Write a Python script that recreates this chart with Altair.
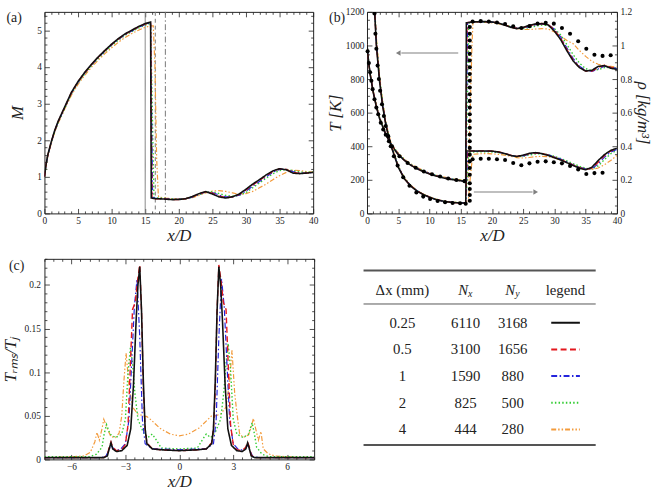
import altair as alt
import pandas as pd

FONT = "Liberation Serif, Times New Roman, serif"
INK = "#222222"

# ---------------------------------------------------------------------------
# Mesh resolutions of the grid-convergence study
# ---------------------------------------------------------------------------
DX_MM = ["0.25", "0.5", "1", "2", "4"]
N_X = [6110, 3100, 1590, 825, 444]
N_Y = [3168, 1656, 880, 500, 280]

LINE_COLOR = {"0.25": "#111111", "0.5": "#e3171d", "1": "#2424dc",
              "2": "#33cc33", "4": "#f39b3c"}
LINE_DASH = {"0.25": [1, 0], "0.5": [6, 3.5], "1": [6, 2.5, 1.5, 2.5],
             "2": [1.5, 2.2], "4": [5, 2, 1.5, 2, 1.5, 2]}
LINE_WIDTH = {"0.25": 1.6, "0.5": 1.4, "1": 1.2, "2": 1.4, "4": 1.2}
DRAW_ORDER = ["4", "2", "1", "0.5", "0.25"]

# ---------------------------------------------------------------------------
# (a) centreline Mach number
# ---------------------------------------------------------------------------
NOZZLE_X = [0, 0.25, 0.5, 1, 1.5, 2, 3, 4, 5, 6, 7, 8, 9, 10, 11, 12, 13, 14, 15, 15.8]
PLUME_X = [17, 18, 19, 20, 21, 22, 23, 24, 25, 26, 27, 28, 29, 30, 31, 32, 33, 34,
           35, 36, 37, 38, 39, 40]

M_NOZZLE = {
    "0.25": [1.0, 1.35, 1.6, 1.95, 2.25, 2.5, 2.9, 3.3, 3.6, 3.85, 4.07, 4.27, 4.45, 4.62, 4.77, 4.9, 5.0, 5.1, 5.18, 5.22],
    "0.5": [1.0, 1.34, 1.59, 1.94, 2.24, 2.49, 2.89, 3.29, 3.59, 3.84, 4.06, 4.26, 4.44, 4.61, 4.76, 4.89, 4.99, 5.09, 5.17, 5.21],
    "1": [1.0, 1.33, 1.58, 1.93, 2.23, 2.48, 2.88, 3.28, 3.58, 3.83, 4.05, 4.25, 4.43, 4.6, 4.75, 4.88, 4.98, 5.08, 5.16, 5.2],
    "2": [1.0, 1.32, 1.57, 1.92, 2.22, 2.46, 2.86, 3.26, 3.56, 3.81, 4.03, 4.23, 4.41, 4.58, 4.73, 4.86, 4.96, 5.06, 5.14, 5.18],
    "4": [1.0, 1.3, 1.55, 1.9, 2.2, 2.44, 2.84, 3.22, 3.52, 3.77, 3.99, 4.18, 4.36, 4.52, 4.67, 4.8, 4.91, 5.0, 5.08, 5.12],
}
M_SHOCK_X = {"0.25": [15.9, 16.5], "0.5": [16.0, 16.5], "1": [16.1, 16.6],
             "2": [16.3, 16.7], "4": [16.2, 16.45, 16.7, 16.95]}
M_SHOCK = {"0.25": [0.42, 0.40], "0.5": [0.42, 0.40], "1": [0.43, 0.41],
           "2": [0.44, 0.42], "4": [5.12, 4.0, 1.5, 0.5]}
M_PLUME = {
    "0.25": [0.40, 0.39, 0.375, 0.38, 0.40, 0.46, 0.54, 0.595, 0.53, 0.45, 0.42, 0.455, 0.53, 0.66, 0.8, 0.92, 1.05, 1.16, 1.22, 1.19, 1.1, 1.085, 1.1, 1.12],
    "0.5": [0.40, 0.39, 0.38, 0.38, 0.40, 0.45, 0.53, 0.59, 0.55, 0.47, 0.43, 0.45, 0.52, 0.64, 0.78, 0.9, 1.03, 1.15, 1.22, 1.2, 1.12, 1.09, 1.1, 1.12],
    "1": [0.41, 0.40, 0.385, 0.385, 0.40, 0.44, 0.52, 0.585, 0.57, 0.5, 0.45, 0.45, 0.5, 0.61, 0.74, 0.87, 1.0, 1.12, 1.2, 1.2, 1.14, 1.1, 1.1, 1.12],
    "2": [0.42, 0.41, 0.395, 0.39, 0.40, 0.44, 0.51, 0.58, 0.59, 0.54, 0.49, 0.47, 0.49, 0.57, 0.7, 0.83, 0.96, 1.08, 1.17, 1.2, 1.17, 1.13, 1.12, 1.13],
    "4": [0.45, 0.42, 0.40, 0.39, 0.40, 0.43, 0.49, 0.56, 0.61, 0.62, 0.6, 0.56, 0.52, 0.54, 0.6, 0.7, 0.8, 0.92, 1.03, 1.12, 1.18, 1.17, 1.14, 1.13],
}
STATION_X = [15, 16.5, 18]
STATION_DASH = [[1, 0], [4, 3], [6, 2.5, 1.5, 2.5]]

# ---------------------------------------------------------------------------
# (b) centreline temperature and density
# ---------------------------------------------------------------------------
T_NOZZLE = {
    "0.25": [1005, 905, 830, 720, 635, 565, 470, 400, 350, 315, 287, 266, 249, 235, 223, 213, 205, 199, 194, 191],
    "0.5": [1005, 906, 831, 722, 637, 567, 472, 402, 352, 316, 288, 267, 250, 236, 224, 214, 206, 200, 195, 192],
    "1": [1005, 907, 833, 724, 639, 569, 474, 404, 354, 318, 290, 269, 252, 238, 226, 216, 207, 201, 196, 193],
    "2": [1005, 908, 835, 727, 642, 572, 477, 407, 357, 320, 292, 271, 254, 239, 227, 217, 209, 203, 198, 195],
    "4": [1005, 910, 838, 730, 645, 575, 480, 410, 360, 323, 295, 273, 256, 241, 229, 219, 211, 205, 200, 197],
}
T_SHOCK_X = {"0.25": [15.9], "0.5": [16.0], "1": [16.1], "2": [16.3],
             "4": [16.2, 16.5, 16.8, 16.95]}
T_SHOCK = {"0.25": [1135], "0.5": [1136], "1": [1136], "2": [1135],
           "4": [200, 600, 1000, 1130]}
T_PLUME = {
    "0.25": [1140, 1142, 1142, 1140, 1133, 1122, 1108, 1100, 1108, 1120, 1128, 1130, 1122, 1085, 1035, 968, 908, 868, 848, 852, 875, 880, 865, 857],
    "0.5": [1140, 1142, 1142, 1140, 1134, 1124, 1110, 1101, 1106, 1118, 1127, 1131, 1125, 1092, 1042, 975, 913, 870, 847, 848, 868, 882, 870, 860],
    "1": [1139, 1141, 1141, 1139, 1133, 1123, 1111, 1102, 1103, 1113, 1123, 1128, 1124, 1097, 1050, 985, 922, 877, 852, 846, 860, 876, 872, 862],
    "2": [1138, 1140, 1140, 1138, 1132, 1123, 1112, 1103, 1100, 1106, 1115, 1121, 1120, 1100, 1062, 1005, 945, 895, 862, 850, 856, 868, 870, 864],
    "4": [1137, 1138, 1137, 1135, 1130, 1120, 1110, 1100, 1095, 1095, 1098, 1100, 1098, 1080, 1055, 1030, 1010, 970, 935, 905, 888, 880, 875, 870],
}
RHO_NOZZLE_X = [1.0, 1.25, 1.5, 2, 2.5, 3, 3.5, 4, 5, 6, 7, 8, 9, 10, 11, 12, 13, 14, 15, 15.8]
RHO_NOZZLE = {
    "0.25": [1.4, 1.18, 1.0, 0.79, 0.64, 0.53, 0.45, 0.385, 0.275, 0.205, 0.163, 0.133, 0.112, 0.096, 0.083, 0.074, 0.068, 0.064, 0.062, 0.061],
    "0.5": [1.41, 1.19, 1.01, 0.795, 0.645, 0.533, 0.452, 0.387, 0.277, 0.206, 0.164, 0.134, 0.113, 0.097, 0.084, 0.075, 0.069, 0.065, 0.063, 0.062],
    "1": [1.42, 1.2, 1.02, 0.8, 0.65, 0.537, 0.456, 0.39, 0.279, 0.208, 0.165, 0.135, 0.113, 0.097, 0.084, 0.075, 0.069, 0.065, 0.063, 0.062],
    "2": [1.43, 1.21, 1.03, 0.81, 0.66, 0.543, 0.462, 0.395, 0.282, 0.21, 0.166, 0.136, 0.114, 0.098, 0.085, 0.076, 0.07, 0.066, 0.064, 0.063],
    "4": [1.45, 1.22, 1.05, 0.82, 0.67, 0.55, 0.47, 0.4, 0.285, 0.212, 0.168, 0.137, 0.115, 0.099, 0.086, 0.077, 0.071, 0.067, 0.065, 0.064],
}
RHO_SHOCK_X = {"0.25": [15.9], "0.5": [16.0], "1": [16.1], "2": [16.3],
               "4": [16.2, 16.5, 16.8, 16.95]}
RHO_SHOCK = {"0.25": [0.372], "0.5": [0.372], "1": [0.37], "2": [0.366],
             "4": [0.065, 0.2, 0.31, 0.35]}
RHO_PLUME = {
    "0.25": [0.372, 0.372, 0.372, 0.371, 0.366, 0.357, 0.345, 0.339, 0.347, 0.358, 0.362, 0.356, 0.345, 0.332, 0.318, 0.302, 0.285, 0.27, 0.26, 0.275, 0.315, 0.35, 0.375, 0.388],
    "0.5": [0.372, 0.372, 0.372, 0.371, 0.367, 0.358, 0.346, 0.339, 0.345, 0.356, 0.361, 0.357, 0.347, 0.334, 0.32, 0.304, 0.287, 0.272, 0.262, 0.27, 0.305, 0.345, 0.372, 0.386],
    "1": [0.37, 0.37, 0.37, 0.369, 0.365, 0.357, 0.346, 0.339, 0.343, 0.353, 0.359, 0.357, 0.349, 0.337, 0.323, 0.307, 0.29, 0.275, 0.264, 0.266, 0.295, 0.335, 0.365, 0.382],
    "2": [0.366, 0.367, 0.367, 0.366, 0.362, 0.355, 0.345, 0.338, 0.34, 0.348, 0.354, 0.355, 0.35, 0.34, 0.327, 0.312, 0.296, 0.281, 0.268, 0.265, 0.283, 0.32, 0.355, 0.376],
    "4": [0.352, 0.355, 0.356, 0.355, 0.352, 0.347, 0.34, 0.332, 0.33, 0.333, 0.338, 0.34, 0.338, 0.33, 0.318, 0.305, 0.29, 0.275, 0.265, 0.262, 0.27, 0.29, 0.315, 0.345],
}

# reference data (symbols)
T_REF_X = [0.1, 0.3, 0.5, 0.7, 0.9, 1.2, 1.5, 1.8, 2.2, 2.6, 3.0, 3.5, 4.0, 5.2, 6.5,
           7.8, 9.1, 10.4, 11.7, 13.0, 14.3, 15.6,
           16.45, 16.45, 16.45, 16.45, 16.45, 16.45, 16.45, 16.45, 16.45, 16.45, 16.45,
           16.45, 16.45, 16.45, 16.45, 16.45, 16.45, 16.45, 16.45, 16.45, 16.45, 16.45, 16.45,
           16.9, 18.2, 19.5, 20.8, 22.1, 23.4, 24.7, 26.0, 27.3, 28.6, 29.9, 31.2, 32.5,
           33.8, 35.1, 36.4, 37.7, 39.0]
T_REF = [965, 895, 840, 790, 740, 680, 630, 590, 540, 500, 468, 430, 400, 340, 300,
         272, 250, 233, 220, 208, 199, 192,
         230, 270, 310, 350, 390, 430, 470, 510, 550, 590, 630, 670, 710, 750, 790, 830,
         870, 910, 950, 990, 1030, 1070, 1110,
         1142, 1145, 1142, 1137, 1128, 1114, 1104, 1115, 1130, 1135, 1130, 1104, 1070,
         1025, 980, 945, 938, 942]
RHO_REF_X = [1.2, 1.35, 1.5, 1.7, 1.9, 2.1, 2.4, 2.7, 3.0, 3.4, 3.8, 4.3, 4.9, 5.8, 6.8,
             7.9, 9.0, 10.1, 11.3, 12.5, 13.7, 14.9, 15.8,
             16.45, 16.45, 16.45, 16.45,
             16.9, 18.2, 19.5, 20.8, 22.1, 23.4, 24.7, 26.0, 27.3, 28.6, 29.9, 31.2,
             32.5, 33.8, 35.1, 36.4, 37.7]
RHO_REF = [1.19, 1.07, 0.98, 0.88, 0.8, 0.73, 0.65, 0.58, 0.52, 0.46, 0.4, 0.34, 0.285,
           0.215, 0.165, 0.125, 0.1, 0.086, 0.074, 0.066, 0.062, 0.06, 0.058,
           0.075, 0.11, 0.145, 0.18,
           0.322, 0.325, 0.325, 0.322, 0.318, 0.3, 0.287, 0.298, 0.308, 0.31, 0.305,
           0.298, 0.283, 0.262, 0.235, 0.24, 0.242]

# arrows pointing at the axis each curve family belongs to
ARROW_T = {"from": 14.6, "to": 5.0, "level": 955}
ARROW_RHO = {"from": 17.1, "to": 27.0, "level": 0.127}

# ---------------------------------------------------------------------------
# (c) radial profile of temperature fluctuations
# ---------------------------------------------------------------------------
TRMS_X = {
    "0.25": [-7.5, -5.0, -4.2, -4.0, -3.9, -3.8, -3.7, -3.5, -3.2, -2.9, -2.7, -2.55, -2.4, -2.3, -2.2, -2.1, -2.0, -1.9, -1.8, -1.5, -1.0, 0.0, 1.0, 1.5, 1.8, 1.9, 2.0, 2.1, 2.2, 2.3, 2.4, 2.55, 2.7, 2.9, 3.2, 3.5, 3.7, 3.8, 3.9, 4.0, 4.2, 5.0, 7.5],
    "0.5": [-7.5, -5.0, -4.2, -4.0, -3.9, -3.8, -3.7, -3.5, -3.2, -3.0, -2.85, -2.7, -2.6, -2.45, -2.32, -2.2, -2.1, -2.0, -1.9, -1.8, -1.5, -1.0, 0.0, 1.0, 1.5, 1.8, 1.9, 2.0, 2.1, 2.2, 2.32, 2.45, 2.6, 2.7, 2.85, 3.0, 3.2, 3.5, 3.7, 3.8, 3.9, 4.0, 4.2, 5.0, 7.5],
    "1": [-7.5, -4.5, -4.1, -3.95, -3.8, -3.6, -3.3, -3.0, -2.8, -2.65, -2.5, -2.35, -2.2, -2.05, -1.9, -1.5, -1.0, 0.0, 1.0, 1.5, 1.9, 2.05, 2.2, 2.35, 2.5, 2.65, 2.8, 3.0, 3.3, 3.6, 3.8, 3.95, 4.1, 4.5, 7.5],
    "2": [-7.5, -5.0, -4.6, -4.3, -4.18, -4.05, -3.85, -3.55, -3.2, -3.0, -2.85, -2.72, -2.6, -2.47, -2.3, -2.0, -1.75, -1.5, -1.3, -1.0, 0.0, 1.0, 1.3, 1.5, 1.75, 2.0, 2.3, 2.47, 2.6, 2.72, 2.85, 3.0, 3.2, 3.55, 3.85, 4.05, 4.18, 4.3, 4.6, 5.0, 7.5],
    "4": [-7.5, -6.0, -5.3, -4.95, -4.7, -4.58, -4.45, -4.3, -4.2, -4.0, -3.8, -3.55, -3.35, -3.2, -3.08, -2.96, -2.8, -2.6, -2.3, -2.0, -1.8, -1.55, -1.1, -0.5, 0.0, 0.5, 1.1, 1.55, 1.8, 2.0, 2.3, 2.6, 2.8, 2.93, 3.08, 3.2, 3.35, 3.55, 3.85, 4.0, 4.12, 4.25, 4.4, 4.54, 4.67, 4.95, 5.3, 6.0, 7.5],
}
TRMS = {
    "0.25": [0.002, 0.002, 0.002, 0.004, 0.012, 0.019, 0.012, 0.009, 0.010, 0.016, 0.035, 0.085, 0.16, 0.2, 0.221, 0.17, 0.09, 0.035, 0.018, 0.012, 0.011, 0.010, 0.011, 0.012, 0.018, 0.035, 0.09, 0.17, 0.221, 0.2, 0.16, 0.085, 0.035, 0.016, 0.010, 0.009, 0.012, 0.019, 0.012, 0.004, 0.002, 0.002, 0.002],
    "0.5": [0.002, 0.002, 0.002, 0.005, 0.014, 0.02, 0.014, 0.01, 0.011, 0.017, 0.04, 0.12, 0.172, 0.18, 0.205, 0.223, 0.17, 0.08, 0.035, 0.019, 0.012, 0.011, 0.010, 0.011, 0.012, 0.019, 0.035, 0.08, 0.17, 0.223, 0.205, 0.18, 0.172, 0.12, 0.04, 0.017, 0.011, 0.01, 0.014, 0.02, 0.014, 0.005, 0.002, 0.002, 0.002],
    "1": [0.002, 0.002, 0.003, 0.009, 0.016, 0.011, 0.011, 0.018, 0.045, 0.11, 0.175, 0.207, 0.14, 0.045, 0.018, 0.012, 0.012, 0.011, 0.012, 0.012, 0.018, 0.045, 0.14, 0.207, 0.175, 0.11, 0.045, 0.018, 0.011, 0.011, 0.016, 0.009, 0.003, 0.002, 0.002],
    "2": [0.003, 0.003, 0.006, 0.014, 0.029, 0.04, 0.029, 0.025, 0.029, 0.046, 0.1, 0.128, 0.11, 0.076, 0.046, 0.031, 0.025, 0.029, 0.023, 0.013, 0.012, 0.013, 0.023, 0.029, 0.025, 0.031, 0.046, 0.076, 0.11, 0.133, 0.103, 0.046, 0.029, 0.025, 0.029, 0.042, 0.029, 0.014, 0.006, 0.003, 0.003],
    "4": [0.002, 0.003, 0.004, 0.008, 0.02, 0.031, 0.022, 0.035, 0.046, 0.035, 0.026, 0.025, 0.03, 0.05, 0.09, 0.122, 0.085, 0.06, 0.052, 0.05, 0.049, 0.045, 0.036, 0.029, 0.027, 0.029, 0.036, 0.045, 0.05, 0.05, 0.052, 0.06, 0.09, 0.125, 0.076, 0.054, 0.03, 0.025, 0.028, 0.037, 0.047, 0.035, 0.022, 0.032, 0.012, 0.0064, 0.004, 0.003, 0.002],
}

# ---------------------------------------------------------------------------
# helpers
# ---------------------------------------------------------------------------
MAJOR, MINOR = 5, 2.5


def ticks_only(orient, values, size):
    return alt.Axis(orient=orient, values=values, labels=False, domain=False, grid=False,
                    tickSize=size, offset=-size, tickColor=INK, tickWidth=0.8, title=None)


def labelled(orient, values, title, label_pad, title_pad, fmt="~g"):
    return alt.Axis(orient=orient, values=values, ticks=False, domain=False, grid=False,
                    labelPadding=label_pad, labelFlush=False, labelOverlap=False,
                    format=fmt, title=title, titlePadding=title_pad)


def ghost(xcol, ycol, x0, y0, xs, ys, xaxis, yaxis):
    df = pd.DataFrame({xcol: [x0], ycol: [y0]})
    return alt.Chart(df).mark_point(opacity=0).encode(
        x=alt.X(f"{xcol}:Q", scale=xs, axis=xaxis),
        y=alt.Y(f"{ycol}:Q", scale=ys, axis=yaxis))


def curves(xcol, ycol, xs_by, ys_by, xs, ys):
    out = []
    for s in DRAW_ORDER:
        df = pd.DataFrame({xcol: xs_by[s], ycol: ys_by[s]})
        out.append(alt.Chart(df).mark_line(
            color=LINE_COLOR[s], strokeDash=LINE_DASH[s], strokeWidth=LINE_WIDTH[s],
            clip=True).encode(
            x=alt.X(f"{xcol}:Q", scale=xs, axis=None),
            y=alt.Y(f"{ycol}:Q", scale=ys, axis=None)))
    return out


def tag(text, dx, dy):
    return alt.Chart(pd.DataFrame({"t": [text]})).mark_text(
        align="left", baseline="middle", font=FONT, fontSize=14, color=INK).encode(
        text="t:N", x=alt.value(dx), y=alt.value(dy))


def minor_ticks(lo, hi, step, every):
    n = int(round((hi - lo) / step))
    return [round(lo + i * step, 4) for i in range(n + 1) if i % every]


# ---------------------------------------------------------------------------
# panel (a)
# ---------------------------------------------------------------------------
xa = alt.Scale(domain=[0, 40], nice=False, zero=False)
ya = alt.Scale(domain=[0, 5.5], nice=False, zero=False)
X40_MAJ = [0, 5, 10, 15, 20, 25, 30, 35, 40]
X40_MIN = minor_ticks(0, 40, 1, 5)
MA_MAJ = [0, 1, 2, 3, 4, 5]
MA_MIN = minor_ticks(0, 5.4, 0.2, 5)

m_x = {s: NOZZLE_X + M_SHOCK_X[s] + PLUME_X for s in DX_MM}
m_y = {s: M_NOZZLE[s] + M_SHOCK[s] + M_PLUME[s] for s in DX_MM}

stations = [alt.Chart(pd.DataFrame({"x": [x0]})).mark_rule(
    color="#777777", strokeWidth=1, strokeDash=d).encode(x=alt.X("x:Q", scale=xa, axis=None))
    for x0, d in zip(STATION_X, STATION_DASH)]

panel_a = alt.layer(
    *stations,
    *curves("x", "M", m_x, m_y, xa, ya),
    ghost("x", "M", 20, 1, xa, ya, labelled("bottom", X40_MAJ, "x/D", 2, 3),
          labelled("left", MA_MAJ, "M", 3, 10)),
    ghost("x", "M", 20, 1, xa, ya, ticks_only("bottom", X40_MAJ, MAJOR), ticks_only("left", MA_MAJ, MAJOR)),
    ghost("x", "M", 20, 1, xa, ya, ticks_only("bottom", X40_MIN, MINOR), ticks_only("left", MA_MIN, MINOR)),
    ghost("x", "M", 20, 1, xa, ya, ticks_only("top", X40_MAJ, MAJOR), ticks_only("right", MA_MAJ, MAJOR)),
    ghost("x", "M", 20, 1, xa, ya, ticks_only("top", X40_MIN, MINOR), ticks_only("right", MA_MIN, MINOR)),
    tag("(a)", -38.5, 6),
).resolve_axis(x="independent", y="independent").properties(width=272, height=204)

# ---------------------------------------------------------------------------
# panel (b)
# ---------------------------------------------------------------------------
xb = alt.Scale(domain=[0, 40], nice=False, zero=False)
yT = alt.Scale(domain=[0, 1200], nice=False, zero=False)
yR = alt.Scale(domain=[0, 1.2], nice=False, zero=False)
T_MAJ = [0, 200, 400, 600, 800, 1000, 1200]
T_MIN = minor_ticks(0, 1200, 50, 4)
R_MAJ = [0, 0.2, 0.4, 0.6, 0.8, 1, 1.2]
R_MIN = minor_ticks(0, 1.2, 0.05, 4)

t_x = {s: NOZZLE_X + T_SHOCK_X[s] + PLUME_X for s in DX_MM}
t_y = {s: T_NOZZLE[s] + T_SHOCK[s] + T_PLUME[s] for s in DX_MM}
r_x = {s: RHO_NOZZLE_X + RHO_SHOCK_X[s] + PLUME_X for s in DX_MM}
r_y = {s: RHO_NOZZLE[s] + RHO_SHOCK[s] + RHO_PLUME[s] for s in DX_MM}

ARROW_GREY = "#808080"
arrow_t = pd.DataFrame({"x": [ARROW_T["from"]], "x2": [ARROW_T["to"] + 0.5],
                        "tip": [ARROW_T["to"]], "T": [ARROW_T["level"]]})
arrow_r = pd.DataFrame({"x": [ARROW_RHO["from"]], "x2": [ARROW_RHO["to"] - 0.5],
                        "tip": [ARROW_RHO["to"]], "rho": [ARROW_RHO["level"]]})

panel_b = alt.layer(
    *curves("x", "T", t_x, t_y, xb, yT),
    *curves("x", "rho", r_x, r_y, xb, yR),
    alt.Chart(pd.DataFrame({"x": T_REF_X, "T": T_REF})).mark_circle(
        size=17, color="black", opacity=1).encode(
        x=alt.X("x:Q", scale=xb, axis=None), y=alt.Y("T:Q", scale=yT, axis=None)),
    alt.Chart(pd.DataFrame({"x": RHO_REF_X, "rho": RHO_REF})).mark_circle(
        size=17, color="black", opacity=1, clip=True).encode(
        x=alt.X("x:Q", scale=xb, axis=None), y=alt.Y("rho:Q", scale=yR, axis=None)),
    alt.Chart(arrow_t).mark_rule(color=ARROW_GREY, strokeWidth=1.1).encode(
        x=alt.X("x:Q", scale=xb, axis=None), x2="x2:Q", y=alt.Y("T:Q", scale=yT, axis=None)),
    alt.Chart(arrow_t).mark_point(shape="triangle-left", filled=True, size=30,
                                  color=ARROW_GREY, opacity=1).encode(
        x=alt.X("tip:Q", scale=xb, axis=None), y=alt.Y("T:Q", scale=yT, axis=None)),
    alt.Chart(arrow_r).mark_rule(color=ARROW_GREY, strokeWidth=1.1).encode(
        x=alt.X("x:Q", scale=xb, axis=None), x2="x2:Q", y=alt.Y("rho:Q", scale=yR, axis=None)),
    alt.Chart(arrow_r).mark_point(shape="triangle-right", filled=True, size=30,
                                  color=ARROW_GREY, opacity=1).encode(
        x=alt.X("tip:Q", scale=xb, axis=None), y=alt.Y("rho:Q", scale=yR, axis=None)),
    ghost("x", "T", 20, 500, xb, yT, labelled("bottom", X40_MAJ, "x/D", 2, 3),
          labelled("left", T_MAJ, "T [K]", 3, 1, fmt="d")),
    ghost("x", "T", 20, 500, xb, yT, ticks_only("bottom", X40_MAJ, MAJOR), ticks_only("left", T_MAJ, MAJOR)),
    ghost("x", "T", 20, 500, xb, yT, ticks_only("bottom", X40_MIN, MINOR), ticks_only("left", T_MIN, MINOR)),
    ghost("x", "rho", 20, 0.5, xb, yR, ticks_only("top", X40_MAJ, MAJOR),
          labelled("right", R_MAJ, "ρ [kg/m³]", 3, 2)),
    ghost("x", "rho", 20, 0.5, xb, yR, ticks_only("top", X40_MIN, MINOR), ticks_only("right", R_MAJ, MAJOR)),
    ghost("x", "rho", 20, 0.5, xb, yR, None, ticks_only("right", R_MIN, MINOR)),
    tag("(b)", -38.4, 6),
).resolve_scale(y="independent").resolve_axis(x="independent", y="independent").properties(
    width=253, height=204)

# ---------------------------------------------------------------------------
# panel (c)
# ---------------------------------------------------------------------------
xc = alt.Scale(domain=[-7.5, 7.5], nice=False, zero=False)
yc = alt.Scale(domain=[0, 0.23], nice=False, zero=False)
XC_MAJ = [-6, -3, 0, 3, 6]
XC_MIN = [v for v in [round(-7.5 + 0.5 * i, 2) for i in range(31)] if v not in XC_MAJ]
YC_MAJ = [0, 0.05, 0.1, 0.15, 0.2]
YC_MIN = minor_ticks(0, 0.23, 0.01, 5)

panel_c = alt.layer(
    *curves("r", "trms", TRMS_X, TRMS, xc, yc),
    ghost("r", "trms", 0, 0.1, xc, yc, labelled("bottom", XC_MAJ, "x/D", 2, 3),
          labelled("left", YC_MAJ, "Tᵣₘₛ/Tⱼ", 4, 5)),
    ghost("r", "trms", 0, 0.1, xc, yc, ticks_only("bottom", XC_MAJ, MAJOR), ticks_only("left", YC_MAJ, MAJOR)),
    ghost("r", "trms", 0, 0.1, xc, yc, ticks_only("bottom", XC_MIN, MINOR), ticks_only("left", YC_MIN, MINOR)),
    ghost("r", "trms", 0, 0.1, xc, yc, ticks_only("top", XC_MAJ, MAJOR), ticks_only("right", YC_MAJ, MAJOR)),
    ghost("r", "trms", 0, 0.1, xc, yc, ticks_only("top", XC_MIN, MINOR), ticks_only("right", YC_MIN, MINOR)),
    tag("(c)", -36, 7),
).resolve_axis(x="independent", y="independent").properties(width=273, height=203)

# ---------------------------------------------------------------------------
# mesh table
# ---------------------------------------------------------------------------
TAB_W, TAB_H = 235, 203
tx = alt.Scale(domain=[0, TAB_W], nice=False, zero=False)
ty = alt.Scale(domain=[0, TAB_H], reverse=True, nice=False, zero=False)
COL_X = [39.3, 103.3, 151, 204.3]
ROW_Y = [64.7, 91.7, 118.7, 145.7, 172.7]
HEAD_Y = 31.4
SAMPLE_X = (190, 219)

rules = pd.DataFrame({"x": [0, 0, 0], "x2": [TAB_W, TAB_W, TAB_W],
                      "y": [11.7, 45.7, 188.4], "w": [2.0, 1.0, 2.0]})
cells = pd.DataFrame({
    "x": [COL_X[0]] * 5 + [COL_X[1]] * 5 + [COL_X[2]] * 5,
    "y": ROW_Y * 3,
    "t": DX_MM + [str(v) for v in N_X] + [str(v) for v in N_Y],
})
samples = pd.DataFrame({"x": [SAMPLE_X[0]] * 5, "x2": [SAMPLE_X[1]] * 5,
                        "y": ROW_Y, "s": DX_MM})

tab_layers = [
    alt.Chart(rules).mark_rule(color="#555555").encode(
        x=alt.X("x:Q", scale=tx, axis=None), x2="x2:Q",
        y=alt.Y("y:Q", scale=ty, axis=None),
        strokeWidth=alt.StrokeWidth("w:Q", scale=None)),
    alt.Chart(cells).mark_text(font=FONT, fontSize=15, color=INK, baseline="middle").encode(
        x=alt.X("x:Q", scale=tx, axis=None), y=alt.Y("y:Q", scale=ty, axis=None), text="t:N"),
    alt.Chart(pd.DataFrame({"x": [COL_X[0], COL_X[3]], "y": [HEAD_Y, HEAD_Y],
                            "t": ["Δx (mm)", "legend"]})).mark_text(
        font=FONT, fontSize=15, color=INK, baseline="middle").encode(
        x=alt.X("x:Q", scale=tx, axis=None), y=alt.Y("y:Q", scale=ty, axis=None), text="t:N"),
    alt.Chart(pd.DataFrame({"x": [COL_X[1] + 2.5, COL_X[2] + 2.5], "y": [HEAD_Y, HEAD_Y],
                            "t": ["N", "N"]})).mark_text(
        font=FONT, fontSize=15, fontStyle="italic", color=INK, baseline="middle",
        align="right").encode(
        x=alt.X("x:Q", scale=tx, axis=None), y=alt.Y("y:Q", scale=ty, axis=None), text="t:N"),
    alt.Chart(pd.DataFrame({"x": [COL_X[1] + 2.5, COL_X[2] + 2.5],
                            "y": [HEAD_Y + 4.5, HEAD_Y + 4.5], "t": ["x", "y"]})).mark_text(
        font=FONT, fontSize=10, fontStyle="italic", color=INK, baseline="middle",
        align="left").encode(
        x=alt.X("x:Q", scale=tx, axis=None), y=alt.Y("y:Q", scale=ty, axis=None), text="t:N"),
]
for s in DX_MM:
    tab_layers.append(
        alt.Chart(samples[samples["s"] == s]).mark_rule(
            color=LINE_COLOR[s], strokeDash=LINE_DASH[s], strokeWidth=2).encode(
            x=alt.X("x:Q", scale=tx, axis=None), x2="x2:Q",
            y=alt.Y("y:Q", scale=ty, axis=None)))

table = alt.layer(*tab_layers).properties(
    width=TAB_W, height=TAB_H, view=alt.ViewBackground(stroke="transparent"))

# ---------------------------------------------------------------------------
# assemble
# ---------------------------------------------------------------------------
top = alt.hconcat(panel_a, panel_b, spacing=6.5)
bottom = alt.hconcat(panel_c, table, spacing=47)
chart = alt.vconcat(top, bottom, spacing=14).properties(
    padding={"left": 0, "top": 3, "right": 0, "bottom": 0},
    background="white",
).configure_view(stroke=INK, strokeWidth=1).configure_axis(
    labelFont=FONT, labelFontSize=9.5, labelColor=INK,
    titleFont=FONT, titleFontSize=17, titleFontWeight="normal",
    titleFontStyle="italic", titleColor=INK,
)

chart.save("out.html", embed_options={"renderer": "svg", "actions": False})
